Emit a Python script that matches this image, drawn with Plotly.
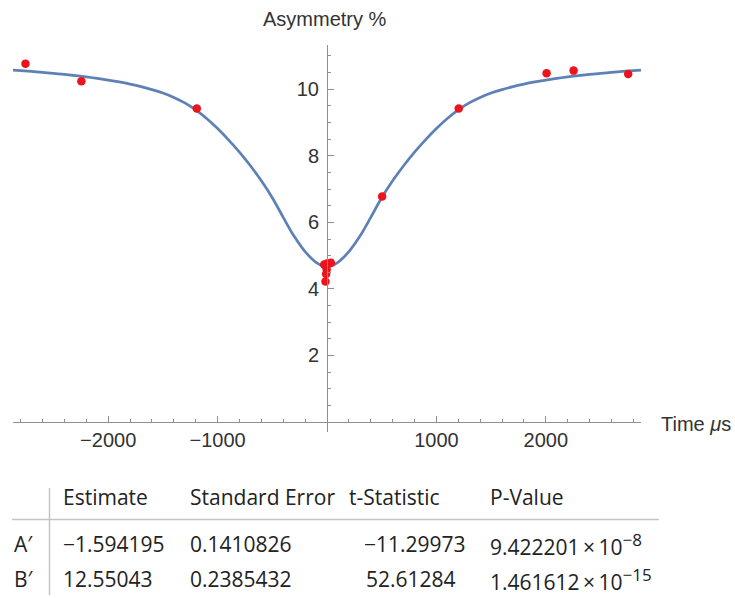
import plotly.graph_objects as go

# Measured asymmetry (%) against time (µs)
time_us = [-2756, -2245, -1190, -25, 0, 35, -3, -8, -14, 504, 1204, 2007, 2254, 2753]
asymmetry = [10.77, 10.24, 9.42, 4.73, 4.76, 4.79, 4.58, 4.45, 4.22, 6.78, 9.42, 10.48, 10.56, 10.46]

# Fitted model curve, sampled on the positive half (the fit is symmetric in t)
fit_t_half = [0, 100, 200, 300, 400, 500, 600, 700, 800, 900, 1000, 1100, 1200, 1300,
              1400, 1500, 1600, 1700, 1800, 1900, 2000, 2100, 2200, 2300, 2400, 2500,
              2600, 2700, 2800, 2870]
fit_y_half = [4.66, 4.80, 5.12, 5.58, 6.15, 6.74, 7.25, 7.70, 8.11, 8.48, 8.82, 9.12, 9.38,
              9.59, 9.755, 9.885, 9.99, 10.08, 10.155, 10.22, 10.275, 10.325, 10.37, 10.41,
              10.445, 10.477, 10.507, 10.535, 10.56, 10.577]
fit_t = [-t for t in fit_t_half[:0:-1]] + fit_t_half
fit_y = fit_y_half[:0:-1] + fit_y_half

x_ticks = [-2000, -1000, 1000, 2000]
y_ticks = [2, 4, 6, 8, 10]

# Parameter table
param_names = ["A\u2032", "B\u2032"]
col_headers = ["Estimate", "Standard Error", "t-Statistic", "P-Value"]
estimates = ["\u22121.594195", "12.55043"]
std_errors = ["0.1410826", "0.2385432"]
t_stats = ["\u221211.29973", "52.61284"]
p_mantissa = ["9.422201", "1.461612"]
p_exponent = ["\u22128", "\u221215"]

W, H = 735, 598
L, R, T, B = 13, 94, 45, 166
PW, PH = W - L - R, H - T - B

def px(x):
    return (x - L) / PW

def py(y):
    return (T + PH - y) / PH

AXIS = "#8f8f8f"
TXT = "#333333"
y_lo, y_hi = -0.3, 11.33

fig = go.Figure()
fig.add_trace(go.Scatter(x=fit_t, y=fit_y, mode="lines", line_shape="spline",
                         line=dict(color="#5E81B5", width=2.7), hoverinfo="skip"))
fig.add_trace(go.Scatter(x=time_us, y=asymmetry, mode="markers",
                         marker=dict(color="rgb(236,20,26)", size=8.5, line_width=0)))

fig.update_layout(
    width=W, height=H, showlegend=False,
    paper_bgcolor="white", plot_bgcolor="white",
    margin=dict(l=L, r=R, t=T, b=B),
    font=dict(family="Liberation Sans, Arial, sans-serif", size=20, color=TXT),
    xaxis=dict(range=[-2870, 2870], showgrid=False, zeroline=False,
               showline=True, linecolor=AXIS, linewidth=1,
               anchor="free", position=(0 - y_lo) / (y_hi - y_lo),
               tickmode="array", tickvals=x_ticks,
               ticktext=[f"\u2212{abs(v)}" if v < 0 else str(v) for v in x_ticks],
               ticks="inside", ticklen=6, tickcolor=AXIS, ticklabelstandoff=0,
               tickfont=dict(size=20, color=TXT),
               minor=dict(tickmode="linear", tick0=0, dtick=200, ticks="inside",
                          ticklen=3, tickcolor=AXIS)),
    yaxis=dict(range=[y_lo, y_hi], showgrid=False, zeroline=False,
               showline=True, linecolor=AXIS, linewidth=1,
               anchor="free", position=0.5, side="left",
               tickmode="array", tickvals=y_ticks,
               ticks="inside", ticklen=6, tickcolor=AXIS, ticklabelstandoff=4,
               tickfont=dict(size=20, color=TXT),
               minor=dict(tickmode="linear", tick0=0, dtick=0.5, ticks="inside",
                          ticklen=3, tickcolor=AXIS)),
)

# Axis labels
fig.add_annotation(text="Asymmetry %", xref="paper", yref="paper",
                   x=px(325), y=py(19), xanchor="center", yanchor="middle",
                   showarrow=False, font=dict(size=20, color=TXT))
fig.add_annotation(text="Time <i>\u03bc</i>s", xref="paper", yref="paper",
                   x=px(659), y=py(424), xanchor="left", yanchor="middle",
                   showarrow=False, font=dict(size=20, color=TXT))

# Parameter table
TF = dict(family="Open Sans, sans-serif", size=21, color="#222222")
header_y = 497
row_y = [544, 579]
col_x = [61, 188, 347, 488]

def cell(text, x, y):
    fig.add_annotation(text=text, xref="paper", yref="paper", x=px(x), y=py(y),
                       xanchor="left", yanchor="middle", showarrow=False, font=TF)

for h, x in zip(col_headers, col_x):
    cell(h, x, header_y)
for i, name in enumerate(param_names):
    cell(name, 12, row_y[i])
    cell(estimates[i], col_x[0], row_y[i])
    cell(std_errors[i], col_x[1], row_y[i])
    cell(t_stats[i], 362 if t_stats[i].startswith("\u2212") else 364, row_y[i])
    cell(f"{p_mantissa[i]}\u2009\u00d7\u200910"
         f"<sup><span style='font-size:17px'>{p_exponent[i]}</span></sup>",
         col_x[3], row_y[i])

fig.add_shape(type="line", xref="paper", yref="paper",
              x0=px(12), x1=px(659), y0=py(519.5), y1=py(519.5),
              line=dict(color="#c4c4c4", width=1.5))
fig.add_shape(type="line", xref="paper", yref="paper",
              x0=px(49.5), x1=px(49.5), y0=py(488), y1=py(595),
              line=dict(color="#c4c4c4", width=1.5))

fig.write_html("out.html")
